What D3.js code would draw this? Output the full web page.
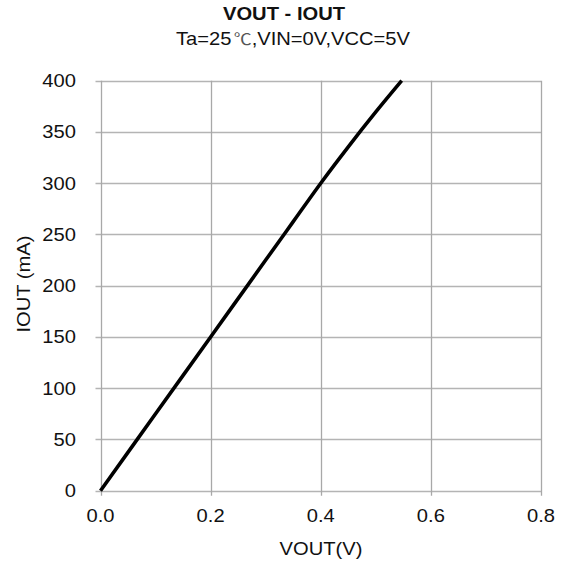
<!DOCTYPE html>
<html><head><meta charset="utf-8">
<script src="https://cdn.jsdelivr.net/npm/d3@7"></script>
<style>body{margin:0;background:#fff;} text{font-family:"Liberation Sans",Arial,sans-serif;}</style>
</head><body>
<svg id="c" width="562" height="563"></svg>
<script>
const vout = [0, 0.1, 0.2, 0.3, 0.35, 0.4, 0.45, 0.5, 0.547];
const iout = [0, 75, 150, 225, 262.5, 300, 335.5, 369.5, 400];
const xTicks = [0, 0.2, 0.4, 0.6, 0.8];
const yTicks = [0, 50, 100, 150, 200, 250, 300, 350, 400];
const title = "VOUT - IOUT";
const subtitlePre = "Ta=25";
const subtitleDeg = "℃";
const subtitlePost = ",VIN=0V,VCC=5V";
const xLabel = "VOUT(V)";
const yLabel = "IOUT (mA)";

const svg = d3.select("#c");
const L = 100.5, R = 541, T = 80.7, B = 490.7;
const x = d3.scaleLinear().domain([0, 0.8]).range([L, R]);
const y = d3.scaleLinear().domain([0, 400]).range([B, T]);
const SX = 1.12, FS = 18;

function label(g, px, py, txt, anchor, opts = {}) {
  const t = g.append("text")
    .attr("transform", `translate(${px},${py}) ${opts.rot ? "rotate(-90)" : ""} scale(${SX},1)`)
    .attr("text-anchor", anchor).attr("font-size", FS).attr("fill", "#111");
  if (opts.bold) t.attr("font-weight", "bold");
  t.text(txt);
  return t;
}

// grid
svg.append("g").selectAll("line").data(yTicks).join("line")
  .attr("x1", L - 5).attr("x2", R)
  .attr("y1", d => Math.round(y(d)) + 0.5).attr("y2", d => Math.round(y(d)) + 0.5)
  .attr("stroke", "#b4b4b4").attr("stroke-width", 1.3);
svg.append("g").selectAll("line").data(xTicks).join("line")
  .attr("y1", T).attr("y2", B + 5)
  .attr("x1", d => Math.round(x(d)) + 0.5).attr("x2", d => Math.round(x(d)) + 0.5)
  .attr("stroke", "#a8a8a8").attr("stroke-width", 1.3);

// tick labels
yTicks.forEach(d => label(svg, 76, y(d) + 6.5, String(d), "end"));
xTicks.forEach(d => label(svg, x(d), 522, d.toFixed(1), "middle"));

// line
const line = d3.line().x(d => x(d[0])).y(d => y(d[1])).curve(d3.curveCatmullRom);
svg.append("path").datum(vout.map((v, i) => [v, iout[i]]))
  .attr("d", line).attr("fill", "none").attr("stroke", "#000").attr("stroke-width", 3.6);

// titles
label(svg, 284, 20, title, "middle", { bold: true });
const st = svg.append("text").attr("transform", "translate(293,45) scale(1.12,1)")
  .attr("text-anchor", "middle").attr("font-size", FS).attr("fill", "#111");
st.append("tspan").text(subtitlePre);
st.append("tspan").attr("font-family", "Noto Sans CJK JP").attr("font-size", 16).attr("fill", "#555").attr("dx", 2).text(subtitleDeg);
st.append("tspan").text(subtitlePost);
label(svg, 321, 555, xLabel, "middle");
label(svg, 30, 284, yLabel, "middle", { rot: true });
</script>
</body></html>
